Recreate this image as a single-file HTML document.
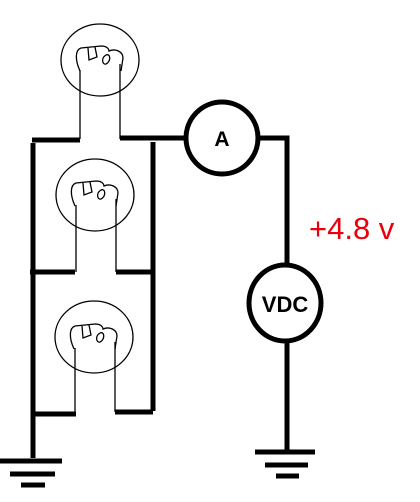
<!DOCTYPE html>
<html><head><meta charset="utf-8"><style>html,body{margin:0;padding:0;background:#fff}svg{display:block}</style></head>
<body>
<svg width="420" height="502" viewBox="0 0 420 502">
<g fill="none" stroke="#000" stroke-width="1.3">
 <g>
  <ellipse cx="100" cy="60" rx="39" ry="36"/>
  <path d="M80,71 C75,60 75,50 81,48 L101,46 C109,46 109,51 109,51 C116,48 123,52 123,58 L121,71 M88,48 L89,60 L97,57 L95,47 M106,55 C101,58 102,65 106,64 C111,62 111,53 106,55"/>
  <path d="M80,70 L80,139 M120,64 L120,139"/>
 </g>
 <g>
  <ellipse cx="95" cy="195" rx="39" ry="36"/>
  <path d="M75,206 C70,195 70,185 76,183 L96,181 C104,181 104,186 104,186 C111,183 118,187 118,193 L116,206 M83,183 L84,195 L92,192 L90,182 M101,190 C96,193 97,200 101,199 C106,197 106,188 101,190"/>
  <path d="M76,205 L76,272 M116,199 L116,272"/>
 </g>
 <g>
  <ellipse cx="94" cy="337" rx="39" ry="36"/>
  <path d="M74,349 C69,338 69,328 75,326 L95,324 C103,324 103,329 103,329 C110,326 117,330 117,336 L115,349 M82,326 L83,338 L91,335 L89,325 M100,333 C95,336 96,343 100,342 C105,340 105,331 100,333"/>
  <path d="M75,348 L75,414 M115,342 L115,412"/>
 </g>
</g>
<g stroke="#000" stroke-width="5" fill="none">
 <path d="M32,140 L80,140 M120,138 L186,138"/>
 <path d="M33,143 L33,458 M153,142 L153,411"/>
 <path d="M30,272 L75,272 M116,272 L153,272"/>
 <path d="M33,414 L76,414 M115,412 L153,412"/>
 <path d="M259,138 L287,138 L287,265 M287,341 L287,452"/>
</g>
<g stroke="#000" stroke-width="5" fill="none">
 <path d="M0,461 L62,461 M10,474 L55,474 M21,485 L45,485"/>
</g>
<g stroke="#000" stroke-width="5" fill="none">
 <path d="M255,452 L315,452 M265,465 L308,465 M276,476 L299,476"/>
</g>
<g>
 <circle cx="222" cy="138" r="36" fill="#fff" stroke="#000" stroke-width="5"/>
 <text x="222" y="146" text-anchor="middle" font-family="Liberation Sans, sans-serif" font-weight="bold" font-size="21">A</text>
</g>
<g>
 <ellipse cx="285" cy="303" rx="36" ry="38" fill="#fff" stroke="#000" stroke-width="5"/>
 <text x="285" y="312" text-anchor="middle" font-family="Liberation Sans, sans-serif" font-weight="bold" font-size="22">VDC</text>
</g>
<text x="309" y="239" fill="#e8000b" font-family="Liberation Sans, sans-serif" font-size="31">+4.8 v</text>
</svg>
</body></html>
